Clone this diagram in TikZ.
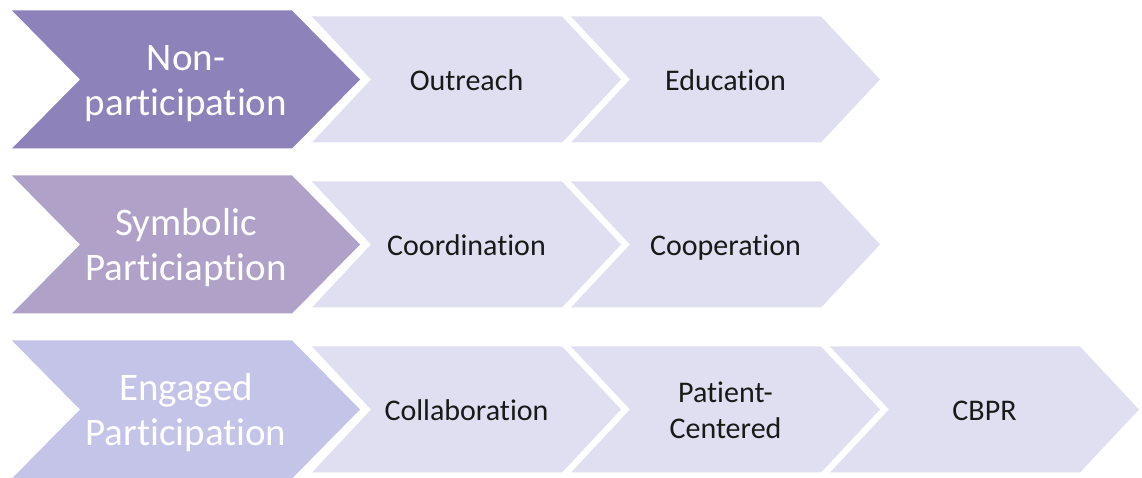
\documentclass[tikz,border=0pt]{standalone}
\usepackage{fontspec}
\setmainfont{Carlito}[Ligatures=NoCommon]
\definecolor{stageone}{RGB}{142,130,187}
\definecolor{stagetwo}{RGB}{176,161,200}
\definecolor{stagethree}{RGB}{196,195,232}
\definecolor{steplight}{RGB}{224,223,241}
\definecolor{steptext}{RGB}{25,25,25}
% chevron: name, left x, centre y, half height, width, point depth, colour
\newcommand{\chevshape}[7]{%
  \fill[#7] (#2,{#3+#4}) -- ({#2+#5-#6},{#3+#4}) -- ({#2+#5},#3)
    -- ({#2+#5-#6},{#3-#4}) -- (#2,{#3-#4}) -- ({#2+#6},#3) -- cycle;
  \coordinate (#1) at ({#2+#5/2},#3);}
\tikzset{
  stagelabel/.style={text=white, align=center, inner sep=0pt, yshift=-5pt,
    font=\fontsize{39}{45}\selectfont},
  steplabel/.style={text=steptext, align=center, inner sep=0pt, yshift=-3.5pt,
    font=\fontsize{30}{36}\selectfont}
}
\begin{document}
\begin{tikzpicture}[x=1pt,y=1pt]
\useasboundingbox (0,0) rectangle (1142,478);
% row 1
\chevshape{c11}{12}{398.5}{69}{348}{68}{stageone}
\chevshape{c12}{312}{398.5}{63}{309}{59}{steplight}
\chevshape{c13}{571}{398.5}{63}{309}{59}{steplight}
\node[stagelabel] (n11) at (c11) {\strut Non-\\\strut participation};
\node[steplabel] (n12) at (c12) {\strut Outreach};
\node[steplabel] (n13) at (c13) {\strut Education};
% row 2
\chevshape{c21}{12}{233.5}{69}{348}{68}{stagetwo}
\chevshape{c22}{312}{233.5}{63}{309}{59}{steplight}
\chevshape{c23}{571}{233.5}{63}{309}{59}{steplight}
\node[stagelabel] (n21) at (c21) {\strut Symbolic\\\strut Particiaption};
\node[steplabel] (n22) at (c22) {\strut Coordination};
\node[steplabel] (n23) at (c23) {\strut Cooperation};
% row 3
\chevshape{c31}{12}{68.5}{69}{348}{68}{stagethree}
\chevshape{c32}{312}{68.5}{63}{309}{59}{steplight}
\chevshape{c33}{571}{68.5}{63}{309}{59}{steplight}
\chevshape{c34}{830}{68.5}{63}{309}{59}{steplight}
\node[stagelabel] (n31) at (c31) {\strut Engaged\\\strut Participation};
\node[steplabel] (n32) at (c32) {\strut Collaboration};
\node[steplabel] (n33) at (c33) {\strut Patient-\\\strut Centered};
\node[steplabel] (n34) at (c34) {\strut CBPR};
\end{tikzpicture}
\end{document}
